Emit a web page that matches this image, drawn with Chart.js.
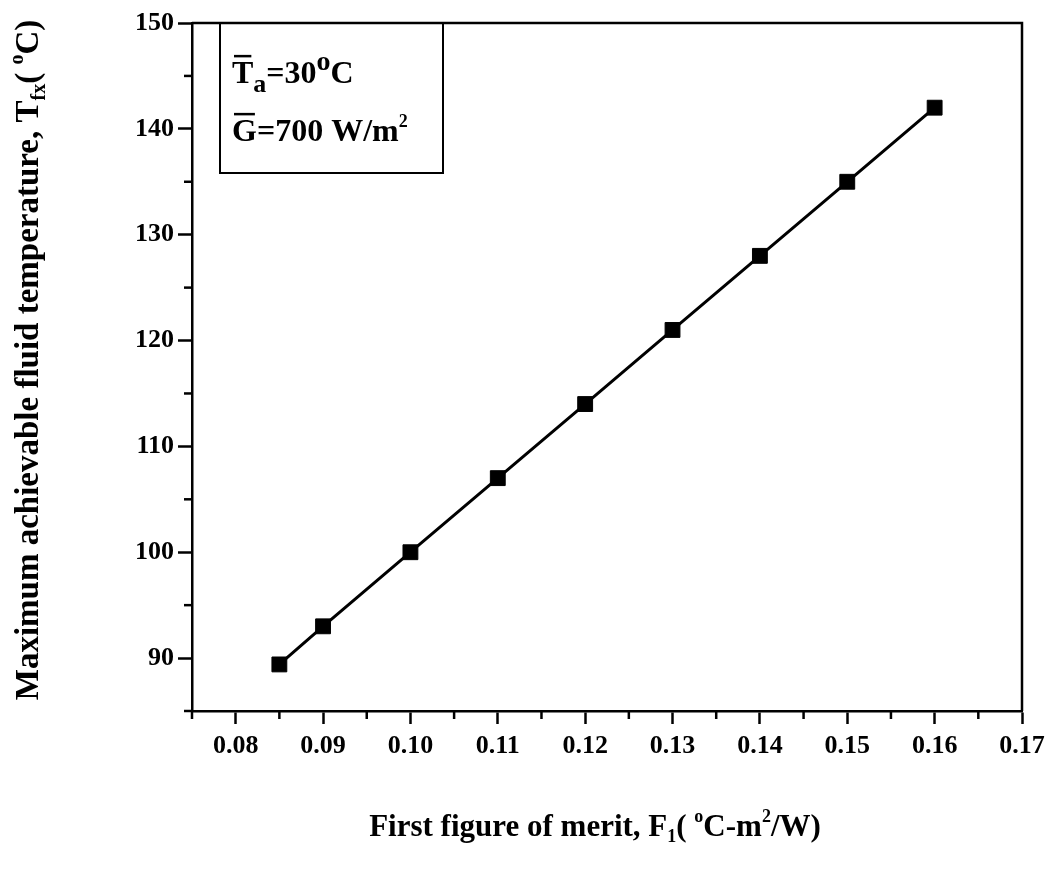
<!DOCTYPE html>
<html>
<head>
<meta charset="utf-8">
<script src="https://cdn.jsdelivr.net/npm/chart.js@4"></script>
<style>
  html, body { margin: 0; padding: 0; background: #fff; }
  #wrap { width: 1047px; height: 869px; position: relative; }
</style>
</head>
<body>
<div id="wrap"><canvas id="fomChart"></canvas></div>
<script>
// data
const fomX = [0.085, 0.09, 0.10, 0.11, 0.12, 0.13, 0.14, 0.15, 0.16];
const tempY = [89.4, 93, 100, 107, 114, 121, 128, 135, 142];
const xTicks = [0.08, 0.09, 0.10, 0.11, 0.12, 0.13, 0.14, 0.15, 0.16, 0.17];
const xMinor = [0.075, 0.085, 0.095, 0.105, 0.115, 0.125, 0.135, 0.145, 0.155, 0.165];
const yTicks = [90, 100, 110, 120, 130, 140, 150];
const yMinor = [85, 95, 105, 115, 125, 135, 145];

const SERIF = '"Liberation Serif", "Times New Roman", serif';
const ink = '#000';

// draw a run of text pieces (sub/superscripts) centred on cx
function drawRich(ctx, parts, cx, y) {
  let total = 0;
  parts.forEach(p => { ctx.font = 'bold ' + p.size + 'px ' + SERIF; p.w = ctx.measureText(p.t).width; total += p.w; });
  let x = cx - total / 2;
  parts.forEach(p => {
    ctx.font = 'bold ' + p.size + 'px ' + SERIF;
    ctx.fillText(p.t, x, y + (p.dy || 0));
    x += p.w;
  });
}

function drawLeft(ctx, parts, x, y) {
  parts.forEach(p => {
    ctx.font = 'bold ' + p.size + 'px ' + SERIF;
    const w = ctx.measureText(p.t).width;
    ctx.fillText(p.t, x, y + (p.dy || 0));
    if (p.bar) {
      ctx.fillRect(x + 2, y - p.size * 0.66 - 7, w - 4, 2.5);
    }
    x += w;
  });
}

const extras = {
  id: 'extras',
  afterDraw(chart) {
    const ctx = chart.ctx, ca = chart.chartArea;
    const xs = chart.scales.x, ys = chart.scales.y;
    ctx.save();
    ctx.strokeStyle = ink;
    ctx.fillStyle = ink;
    ctx.textBaseline = 'alphabetic';

    // frame top + right
    ctx.lineWidth = 2.5;
    ctx.beginPath();
    ctx.moveTo(ca.left, ca.top);
    ctx.lineTo(ca.right, ca.top);
    ctx.lineTo(ca.right, ca.bottom);
    ctx.stroke();

    // minor ticks
    ctx.lineWidth = 2.5;
    xMinor.forEach(v => {
      const px = xs.getPixelForValue(v);
      ctx.beginPath(); ctx.moveTo(px, ca.bottom); ctx.lineTo(px, ca.bottom + 8); ctx.stroke();
    });
    yMinor.forEach(v => {
      const py = ys.getPixelForValue(v);
      ctx.beginPath(); ctx.moveTo(ca.left, py); ctx.lineTo(ca.left - 8, py); ctx.stroke();
    });

    // annotation box
    ctx.lineWidth = 2;
    ctx.strokeRect(ca.left + 28, ca.top, 223, 150);
    drawLeft(ctx, [
      { t: 'T', size: 32, bar: true },
      { t: 'a', size: 26, dy: 9 },
      { t: '=30', size: 32 },
      { t: 'o', size: 28, dy: -13 },
      { t: 'C', size: 32 }
    ], ca.left + 40, ca.top + 60);
    drawLeft(ctx, [
      { t: 'G', size: 32, bar: true },
      { t: '=700 W/m', size: 32 },
      { t: '2', size: 18, dy: -14 }
    ], ca.left + 40, ca.top + 118);

    // x axis title
    drawRich(ctx, [
      { t: 'First figure of merit, F', size: 31 },
      { t: '1', size: 18, dy: 6 },
      { t: '( ', size: 31 },
      { t: 'o', size: 18, dy: -14 },
      { t: 'C-m', size: 31 },
      { t: '2', size: 18, dy: -14 },
      { t: '/W)', size: 31 }
    ], 595, 836);

    // y axis title
    ctx.translate(38, 360);
    ctx.rotate(-Math.PI / 2);
    drawRich(ctx, [
      { t: 'Maximum achievable fluid temperature, T', size: 33 },
      { t: 'fx', size: 20, dy: 7 },
      { t: '( ', size: 33 },
      { t: 'o', size: 20, dy: -15 },
      { t: 'C)', size: 33 }
    ], 0, 0);
    ctx.restore();
  }
};

const tickFont = { family: SERIF, size: 26, weight: 'bold' };

new Chart(document.getElementById('fomChart'), {
  type: 'line',
  data: {
    datasets: [{
      data: fomX.map((x, i) => ({ x: x, y: tempY[i] })),
      borderColor: ink,
      borderWidth: 3,
      backgroundColor: ink,
      pointStyle: 'rect',
      pointRadius: 10.5,
      pointBorderWidth: 1,
      pointBackgroundColor: ink,
      tension: 0
    }]
  },
  options: {
    responsive: true,
    maintainAspectRatio: false,
    animation: false,
    layout: { padding: { left: 0, right: 25, top: 23, bottom: 0 } },
    plugins: { legend: { display: false }, tooltip: { enabled: false } },
    scales: {
      x: {
        type: 'linear',
        min: 0.075,
        max: 0.17,
        afterBuildTicks: s => { s.ticks = xTicks.map(v => ({ value: v })); },
        afterFit: s => { s.height = 158; s.paddingRight = 0; s.paddingLeft = 0; },
        ticks: { color: ink, font: tickFont, padding: 7, maxRotation: 0, callback: v => v.toFixed(2) },
        grid: { drawOnChartArea: false, drawTicks: true, tickLength: 13, tickWidth: 2.5, tickColor: ink },
        border: { display: true, color: ink, width: 2.5 }
      },
      y: {
        min: 85,
        max: 150,
        afterBuildTicks: s => { s.ticks = yTicks.map(v => ({ value: v })); },
        afterFit: s => { s.width = 192; s.paddingTop = 0; s.paddingBottom = 0; },
        ticks: { color: ink, font: tickFont, padding: 4, callback: v => String(v) },
        grid: { drawOnChartArea: false, drawTicks: true, tickLength: 14, tickWidth: 2.5, tickColor: ink },
        border: { display: true, color: ink, width: 2.5 }
      }
    }
  },
  plugins: [extras]
});
</script>
</body>
</html>
